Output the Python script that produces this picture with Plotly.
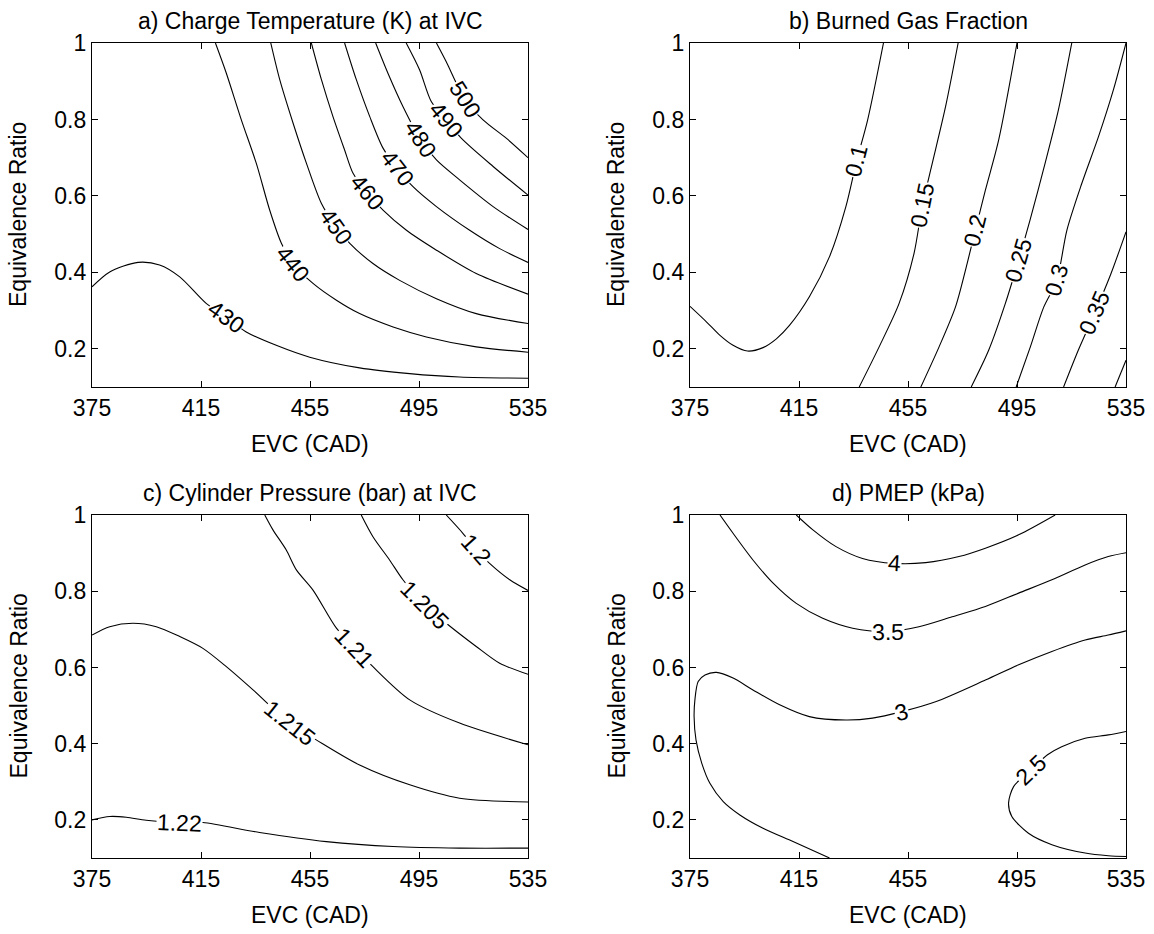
import math
import plotly.graph_objects as go

# ---------------- data ----------------
evc_ticks = [375, 415, 455, 495, 535]
phi_ticks = [0.2, 0.4, 0.6, 0.8, 1.0]
phi_tick_text = ["0.2", "0.4", "0.6", "0.8", "1"]

titles = ["a) Charge Temperature (K) at IVC", "b) Burned Gas Fraction",
          "c) Cylinder Pressure (bar) at IVC", "d) PMEP (kPa)"]

# a) charge temperature contours
a430_x = [375, 381.5, 391.9, 399.8, 407.2, 417.0, 424.3, 431.6, 442.6, 454.9, 473.2, 491.6, 509.9, 535]
a430_y = [0.362, 0.401, 0.426, 0.419, 0.388, 0.318, 0.283, 0.244, 0.209, 0.178, 0.150, 0.135, 0.126, 0.123]
a440_x = [420.3, 424.3, 429.8, 435.3, 440.2, 444.5, 448.8, 456.1, 464.7, 473.2, 485.5, 497.7, 516.0, 535]
a440_y = [1.0, 0.921, 0.799, 0.685, 0.563, 0.476, 0.423, 0.371, 0.327, 0.292, 0.257, 0.231, 0.205, 0.191]
a450_x = [440.6, 443.9, 448.8, 453.7, 459.2, 464.4, 469.6, 478.1, 487.9, 501.4, 516.0, 535]
a450_y = [1.0, 0.904, 0.790, 0.685, 0.580, 0.521, 0.476, 0.423, 0.379, 0.331, 0.292, 0.266]
a460_x = [455.5, 459.2, 463.4, 467.7, 470.8, 475.9, 481.8, 490.4, 501.4, 516.0, 535]
a460_y = [1.0, 0.904, 0.808, 0.720, 0.659, 0.609, 0.563, 0.510, 0.458, 0.397, 0.343]
a470_x = [467.7, 472.0, 476.9, 481.8, 487.0, 492.8, 501.4, 513.6, 524.6, 535]
a470_y = [1.0, 0.904, 0.808, 0.725, 0.672, 0.624, 0.572, 0.510, 0.462, 0.426]
a480_x = [479.1, 483.6, 489.1, 495.5, 501.4, 509.9, 522.2, 535]
a480_y = [1.0, 0.921, 0.834, 0.748, 0.694, 0.642, 0.572, 0.512]
a490_x = [490.3, 495.2, 499.5, 505.0, 510.5, 522.2, 535]
a490_y = [1.0, 0.930, 0.847, 0.799, 0.751, 0.677, 0.602]
a500_x = [501.4, 505.0, 511.8, 518.5, 527.0, 535]
a500_y = [1.0, 0.951, 0.853, 0.799, 0.751, 0.700]

# b) burned gas fraction contours
b010_x = [375, 381.1, 386.0, 390.8, 396.1, 401.8, 406.7, 411.5, 418.8, 426.2, 432.2, 436.1, 440.2, 446.0]
b010_y = [0.311, 0.270, 0.235, 0.209, 0.194, 0.203, 0.226, 0.261, 0.336, 0.441, 0.572, 0.690, 0.799, 1.0]
b015_x = [437.1, 444.4, 451.7, 457.2, 460.3, 463.9, 468.8, 473.4]
b015_y = [0.1, 0.205, 0.318, 0.449, 0.576, 0.685, 0.834, 1.0]
b020_x = [459.7, 466.4, 472.4, 476.7, 479.7, 483.4, 488.3, 495.0]
b020_y = [0.1, 0.205, 0.309, 0.423, 0.510, 0.615, 0.747, 1.0]
b025_x = [478.2, 484.6, 490.7, 495.6, 499.8, 505.3, 510.2, 515.1]
b025_y = [0.1, 0.196, 0.318, 0.432, 0.537, 0.685, 0.825, 1.0]
b030_x = [494.7, 499.9, 504.8, 509.6, 513.3, 518.8, 524.9, 530.4, 535]
b030_y = [0.1, 0.205, 0.309, 0.379, 0.510, 0.633, 0.755, 0.878, 1.0]
b035_x = [512.1, 517.6, 523.6, 529.4, 535]
b035_y = [0.1, 0.198, 0.295, 0.395, 0.506]
b040_x = [531.0, 535]
b040_y = [0.1, 0.170]

# c) cylinder pressure contours
c1220_x = [375, 381.5, 387.6, 394.9, 407.2, 415.7, 436.5, 461.0, 485.5, 509.9, 535]
c1220_y = [0.200, 0.209, 0.207, 0.199, 0.193, 0.193, 0.167, 0.143, 0.130, 0.126, 0.126]
c1215_x = [375, 381.5, 390.0, 398.6, 407.2, 415.7, 424.3, 434.1, 447.5, 457.3, 473.2, 491.6, 509.9, 535]
c1215_y = [0.685, 0.707, 0.716, 0.707, 0.681, 0.650, 0.602, 0.541, 0.454, 0.410, 0.344, 0.292, 0.257, 0.247]
c1210_x = [438.4, 441.4, 446.3, 450.0, 456.1, 464.7, 471.4, 478.1, 491.6, 509.9, 535]
c1210_y = [1.0, 0.961, 0.908, 0.856, 0.803, 0.703, 0.652, 0.602, 0.515, 0.454, 0.397]
c1205_x = [473.8, 478.1, 484.2, 489.1, 497.1, 505.0, 516.0, 524.6, 535]
c1205_y = [1.0, 0.943, 0.882, 0.830, 0.764, 0.716, 0.655, 0.611, 0.582]
c1200_x = [505.0, 511.1, 515.8, 520.9, 528.3, 535]
c1200_y = [1.0, 0.952, 0.910, 0.873, 0.830, 0.802]

# d) PMEP contours
d25_x = [535, 528.5, 520.0, 511.4, 506.2, 500.1, 493.8, 491.9, 493.1, 499.2, 507.8, 520.0, 528.5, 535]
d25_y = [0.432, 0.423, 0.414, 0.392, 0.371, 0.331, 0.288, 0.244, 0.209, 0.165, 0.135, 0.113, 0.106, 0.104]
d30_x = [426.2, 412.8, 401.8, 393.3, 387.2, 382.3, 379.3, 377.2, 376.5, 376.8, 378.0, 380.5, 384.7,
         390.8, 398.1, 407.9, 418.8, 432.2, 442.0, 452.7, 465.1, 483.4, 495.6, 507.8, 520.0, 528.5, 535]
d30_y = [0.1, 0.143, 0.178, 0.213, 0.248, 0.296, 0.349, 0.410, 0.471, 0.515, 0.563, 0.580, 0.587,
         0.572, 0.541, 0.502, 0.471, 0.462, 0.467, 0.484, 0.510, 0.567, 0.607, 0.642, 0.672, 0.685, 0.696]
d35_x = [386.0, 390.8, 398.1, 405.5, 414.0, 423.7, 434.7, 447.5, 459.0, 471.2, 483.4, 495.6, 507.8, 520.0, 528.5, 535]
d35_y = [1.0, 0.952, 0.882, 0.821, 0.768, 0.729, 0.703, 0.694, 0.707, 0.733, 0.760, 0.795, 0.830, 0.869, 0.891, 0.901]
d40_x = [414.0, 420.1, 428.6, 438.3, 449.9, 461.5, 473.7, 483.4, 495.6, 509.0]
d40_y = [1.0, 0.961, 0.917, 0.886, 0.873, 0.875, 0.891, 0.913, 0.948, 1.0]

# (panel, label text, x list, y list, index of the label point or None)
contours = [
    (0, "430", a430_x, a430_y, 6), (0, "440", a440_x, a440_y, 6),
    (0, "450", a450_x, a450_y, 5), (0, "460", a460_x, a460_y, 5),
    (0, "470", a470_x, a470_y, 4), (0, "480", a480_x, a480_y, 3),
    (0, "490", a490_x, a490_y, 3), (0, "500", a500_x, a500_y, 2),
    (1, "0.1", b010_x, b010_y, 11), (1, "0.15", b015_x, b015_y, 4),
    (1, "0.2", b020_x, b020_y, 4), (1, "0.25", b025_x, b025_y, 3),
    (1, "0.3", b030_x, b030_y, 3), (1, "0.35", b035_x, b035_y, 2),
    (1, "0.4", b040_x, b040_y, None),
    (2, "1.22", c1220_x, c1220_y, 4), (2, "1.215", c1215_x, c1215_y, 8),
    (2, "1.21", c1210_x, c1210_y, 6), (2, "1.205", c1205_x, c1205_y, 4),
    (2, "1.2", c1200_x, c1200_y, 2),
    (3, "2.5", d25_x, d25_y, 5), (3, "3", d30_x, d30_y, 19),
    (3, "3.5", d35_x, d35_y, 7), (3, "4", d40_x, d40_y, 4),
]

# ---------------- layout geometry ----------------
W, H = 1154, 934
FONT = "Liberation Sans, Arial, Helvetica, sans-serif"
panels_px = [  # left, right, top, bottom (page pixels)
    (92, 528, 43, 387), (690, 1126, 43, 387),
    (92, 528, 515, 858), (690, 1126, 515, 858),
]
XR = [375, 535]
YR = [0.1, 1.0]


def px(x):
    return x / W


def py(y):
    return 1 - y / H


fig = go.Figure()
layout = dict(width=W, height=H, margin=dict(l=0, r=0, t=0, b=0), template="none",
              paper_bgcolor="white", plot_bgcolor="white", showlegend=False,
              font=dict(family=FONT, color="black", size=23))
annotations = []

for i, (l, r, t, b) in enumerate(panels_px):
    sfx = "" if i == 0 else str(i + 1)
    layout["xaxis" + sfx] = dict(
        domain=[px(l), px(r)], range=XR, tickvals=evc_ticks, ticks="inside", ticklen=6,
        tickwidth=1, tickcolor="black", showline=True, linecolor="black", linewidth=1.3,
        mirror="ticks", showgrid=False, zeroline=False, anchor="y" + sfx, automargin=False,
        tickfont=dict(size=23, family=FONT, color="black"))
    layout["yaxis" + sfx] = dict(
        domain=[py(b), py(t)], range=YR, tickvals=phi_ticks, ticktext=phi_tick_text,
        ticks="inside", ticklen=6, tickwidth=1, tickcolor="black", showline=True,
        linecolor="black", linewidth=1.3, mirror="ticks", showgrid=False, zeroline=False,
        anchor="x" + sfx, automargin=False, tickfont=dict(size=23, family=FONT, color="black"))
    cx = px((l + r) / 2)
    annotations.append(dict(text=titles[i], x=cx, y=py(t - 22), xref="paper", yref="paper",
                            xanchor="center", yanchor="middle", showarrow=False,
                            font=dict(size=23, family=FONT, color="black")))
    annotations.append(dict(text="EVC (CAD)", x=cx, y=py(b + 57), xref="paper", yref="paper",
                            xanchor="center", yanchor="middle", showarrow=False,
                            font=dict(size=23, family=FONT, color="black")))
    annotations.append(dict(text="Equivalence Ratio", x=px(l - 74), y=py((t + b) / 2),
                            xref="paper", yref="paper", xanchor="center", yanchor="middle",
                            textangle=-90, showarrow=False,
                            font=dict(size=23, family=FONT, color="black")))

for p, lab, xs, ys, li in contours:
    sfx = "" if p == 0 else str(p + 1)
    fig.add_trace(go.Scatter(x=xs, y=ys, mode="lines", xaxis="x" + sfx, yaxis="y" + sfx,
                             line=dict(color="black", width=1.1, shape="spline", smoothing=0.8),
                             hoverinfo="skip"))
    if li is None:
        continue
    l, r, t, b = panels_px[p]
    sx = (r - l) / (XR[1] - XR[0])
    sy = (b - t) / (YR[1] - YR[0])
    i0, i1 = max(li - 1, 0), min(li + 1, len(xs) - 1)
    dx = (xs[i1] - xs[i0]) * sx
    dy = -(ys[i1] - ys[i0]) * sy
    ang = math.degrees(math.atan2(dy, dx))
    if ang > 90:
        ang -= 180
    elif ang < -90:
        ang += 180
    annotations.append(dict(text=lab, x=xs[li], y=ys[li], xref="x" + sfx, yref="y" + sfx,
                            xanchor="center", yanchor="middle", textangle=ang, showarrow=False,
                            bgcolor="white", borderpad=0,
                            font=dict(size=23, family=FONT, color="black")))

layout["annotations"] = annotations
fig.update_layout(**layout)
# remove the browser's default 8px page margin so the figure fills the window exactly
fig.write_html("out.html", config={"displayModeBar": False},
               post_script="document.body.style.margin='0px';document.body.style.overflow='hidden';")
